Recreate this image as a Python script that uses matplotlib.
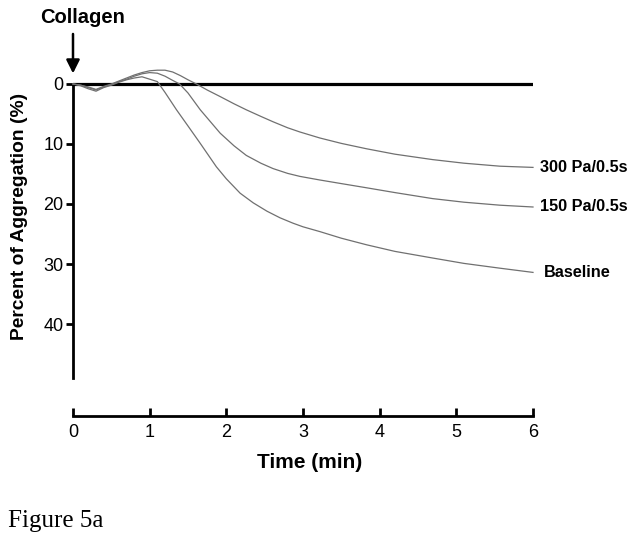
import matplotlib
matplotlib.use("Agg")
import matplotlib.pyplot as plt

plt.rcParams['font.family'] = ['Liberation Sans', 'DejaVu Sans']

# Time (min) and percent aggregation
base_t = [0, 0.1, 0.2, 0.3, 0.4, 0.5, 0.6, 0.7, 0.8, 0.9, 1.0, 1.1, 1.2, 1.35, 1.5, 1.66,
          1.87, 2.0, 2.18, 2.35, 2.53, 2.7, 2.87, 3.0, 3.22, 3.5, 3.83, 4.2, 4.69, 5.1, 5.57, 6.0]
base_v = [0, 0.3, 0.8, 1.2, 0.6, 0.2, -0.3, -0.7, -1.0, -1.2, -0.8, -0.4, 1.4, 4.3, 7.0, 9.9,
          13.8, 15.8, 18.2, 19.8, 21.2, 22.3, 23.2, 23.8, 24.6, 25.7, 26.8, 27.9, 29.0, 29.9, 30.7, 31.4]

mid_t = [0, 0.1, 0.2, 0.3, 0.4, 0.5, 0.6, 0.7, 0.8, 0.9, 1.0, 1.1, 1.2, 1.3, 1.39, 1.5, 1.66,
         1.92, 2.1, 2.26, 2.45, 2.61, 2.8, 2.96, 3.22, 3.5, 3.83, 4.2, 4.69, 5.1, 5.57, 6.0]
mid_v = [0, 0.2, 0.6, 1.0, 0.5, 0.1, -0.4, -0.8, -1.3, -1.7, -1.9, -1.8, -1.3, -0.6, 0, 1.5, 4.3,
         8.2, 10.3, 11.9, 13.2, 14.1, 14.9, 15.4, 16.0, 16.6, 17.3, 18.1, 19.1, 19.7, 20.2, 20.5]

top_t = [0, 0.1, 0.2, 0.3, 0.4, 0.5, 0.6, 0.7, 0.8, 0.9, 1.0, 1.1, 1.2, 1.3, 1.4, 1.5, 1.61,
         1.75, 1.92, 2.1, 2.26, 2.45, 2.61, 2.8, 2.96, 3.22, 3.5, 3.83, 4.2, 4.69, 5.1, 5.57, 6.0]
top_v = [0, 0.2, 0.5, 0.9, 0.4, 0.0, -0.5, -1.0, -1.5, -1.9, -2.2, -2.3, -2.3, -2.0, -1.4, -0.7, 0,
         1.0, 2.1, 3.3, 4.3, 5.4, 6.3, 7.3, 8.0, 9.0, 9.9, 10.8, 11.7, 12.6, 13.2, 13.7, 13.9]

series = [("Baseline", base_t, base_v, 0.14), ("150 Pa/0.5s", mid_t, mid_v, 0.09),
          ("300 Pa/0.5s", top_t, top_v, 0.09)]
x_ticks = [0, 1, 2, 3, 4, 5, 6]
y_ticks = [0, 10, 20, 30, 40]

W, H = 641, 545
fig = plt.figure(figsize=(W / 100, H / 100), dpi=100)
# pixel layout: x0=73, x6=533, y0=84 (6 px per unit), x-axis at y=416
ax = fig.add_axes([73 / W, 1 - 416 / H, 460 / W, (416 - 10) / H])
ax.set_xlim(0, 6)
ax.set_ylim(55.33, -12.33)

for name, t, v, off in series:
    ax.plot(t, v, color='#707070', lw=0.9, clip_on=False, zorder=3)
    ax.text(t[-1] + off, v[-1], name, ha='left', va='center', fontsize=11.7,
            fontweight='bold', clip_on=False)

ax.axhline(0, color='black', lw=2.3, zorder=2)

for s in ['top', 'right']:
    ax.spines[s].set_visible(False)
ax.spines['left'].set_bounds(0, 49)
ax.spines['bottom'].set_bounds(0, 6)
for s in ['left', 'bottom']:
    ax.spines[s].set_linewidth(2.0)

ax.set_xticks(x_ticks)
ax.set_yticks(y_ticks)
ax.tick_params(axis='x', direction='in', length=6, width=2.0, labelsize=13, pad=6)
ax.tick_params(axis='y', direction='out', length=5, width=2.0, labelsize=13, pad=2)

ax.annotate('', xy=(0, -1.3), xytext=(0, -8.8),
            arrowprops=dict(arrowstyle='-|>', lw=1.8, color='black', mutation_scale=20),
            annotation_clip=False)
ax.text(0.13, -11.0, 'Collagen', ha='center', va='center', fontsize=14.5, fontweight='bold')

fig.text(20 / W, 1 - 216 / H, 'Percent of Aggregation (%)', rotation=90, ha='center',
         va='center', fontsize=13.9, fontweight='bold')
fig.text(310 / W, 1 - 462 / H, 'Time (min)', ha='center', va='center', fontsize=15,
         fontweight='bold')
fig.text(8 / W, 1 - 521 / H, 'Figure 5a', ha='left', va='center', fontsize=18,
         family=['Liberation Serif', 'DejaVu Serif'])

fig.savefig('out.png', dpi=100)
